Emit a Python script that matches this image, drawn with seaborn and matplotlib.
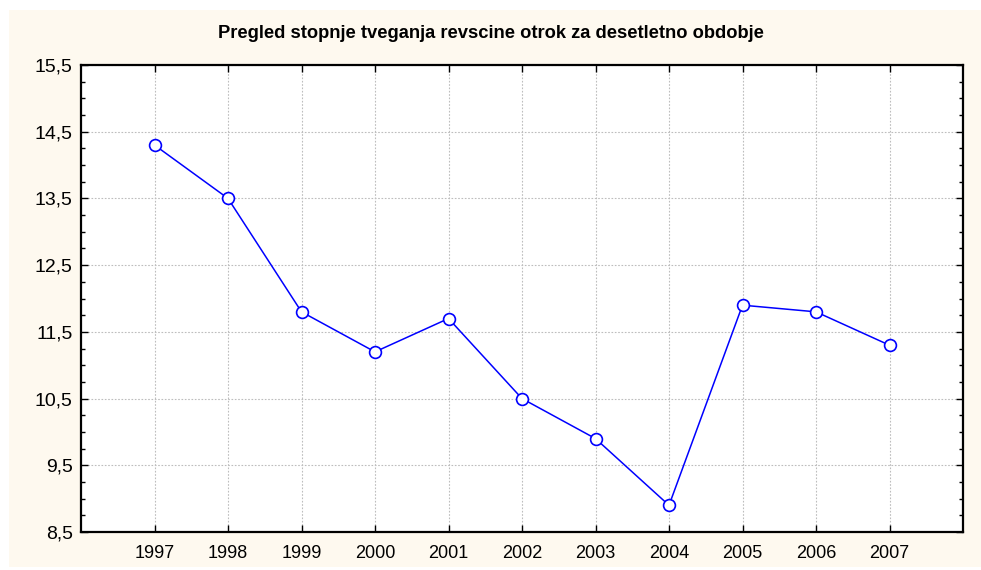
import matplotlib
matplotlib.use("Agg")
import matplotlib.pyplot as plt
from matplotlib.patches import Rectangle
from matplotlib.ticker import FuncFormatter, MultipleLocator, FixedLocator
import pandas as pd
import seaborn as sns

sns.set_style("ticks")
plt.rcParams["font.family"] = ["Liberation Sans", "DejaVu Sans"]
plt.rcParams["text.color"] = "black"

# ---- Data ----
years = [1997, 1998, 1999, 2000, 2001, 2002, 2003, 2004, 2005, 2006, 2007]
rates = [14.3, 13.5, 11.8, 11.2, 11.7, 10.5, 9.9, 8.9, 11.9, 11.8, 11.3]
y_ticks = [8.5, 9.5, 10.5, 11.5, 12.5, 13.5, 14.5, 15.5]
title = "Pregled stopnje tveganja revscine otrok za desetletno obdobje"

df = pd.DataFrame({"year": years, "rate": rates})

fig = plt.figure(figsize=(9.81, 5.70), dpi=100, facecolor="white")
# cream frame behind the plot
fig.patches.append(Rectangle((9 / 981, 3 / 570), 972 / 981, 557 / 570,
                             transform=fig.transFigure, facecolor="#fef9ef",
                             edgecolor="none", zorder=-5))
ax = fig.add_axes([81 / 981, 38 / 570, 882 / 981, 467 / 570])
ax.set_facecolor("white")

sns.lineplot(data=df, x="year", y="rate", ax=ax, color="#0000ff", lw=1.1,
             marker="o", markersize=8.5, markerfacecolor="white",
             markeredgecolor="#0000ff", markeredgewidth=1.2, zorder=3)

ax.set_xlim(1996, 2008)
ax.set_ylim(8.5, 15.5)
ax.xaxis.set_major_locator(FixedLocator(years))
ax.yaxis.set_major_locator(FixedLocator(y_ticks))
ax.yaxis.set_minor_locator(MultipleLocator(0.25))
ax.yaxis.set_major_formatter(FuncFormatter(lambda v, p: f"{v:.1f}".replace(".", ",")))
ax.xaxis.set_major_formatter(FuncFormatter(lambda v, p: f"{int(v)}"))

ax.grid(True, which="major", color="#bdbdbd", linestyle=(0, (1.5, 1.5)), linewidth=0.8)
ax.tick_params(which="both", direction="in", top=True, right=True, colors="black")
ax.tick_params(which="major", length=5, width=1)
ax.tick_params(which="minor", length=3, width=1)
ax.tick_params(axis="x", pad=9, labelsize=13)
ax.tick_params(axis="y", pad=6, labelsize=14)
for s in ax.spines.values():
    s.set_color("black")
    s.set_linewidth(1.6)

ax.set_xlabel("")
ax.set_ylabel("")
fig.text(0.5, 1 - 33 / 570, title, ha="center", va="center",
         fontsize=13.2, fontweight="bold", color="black")

fig.savefig("out.png", dpi=100)
